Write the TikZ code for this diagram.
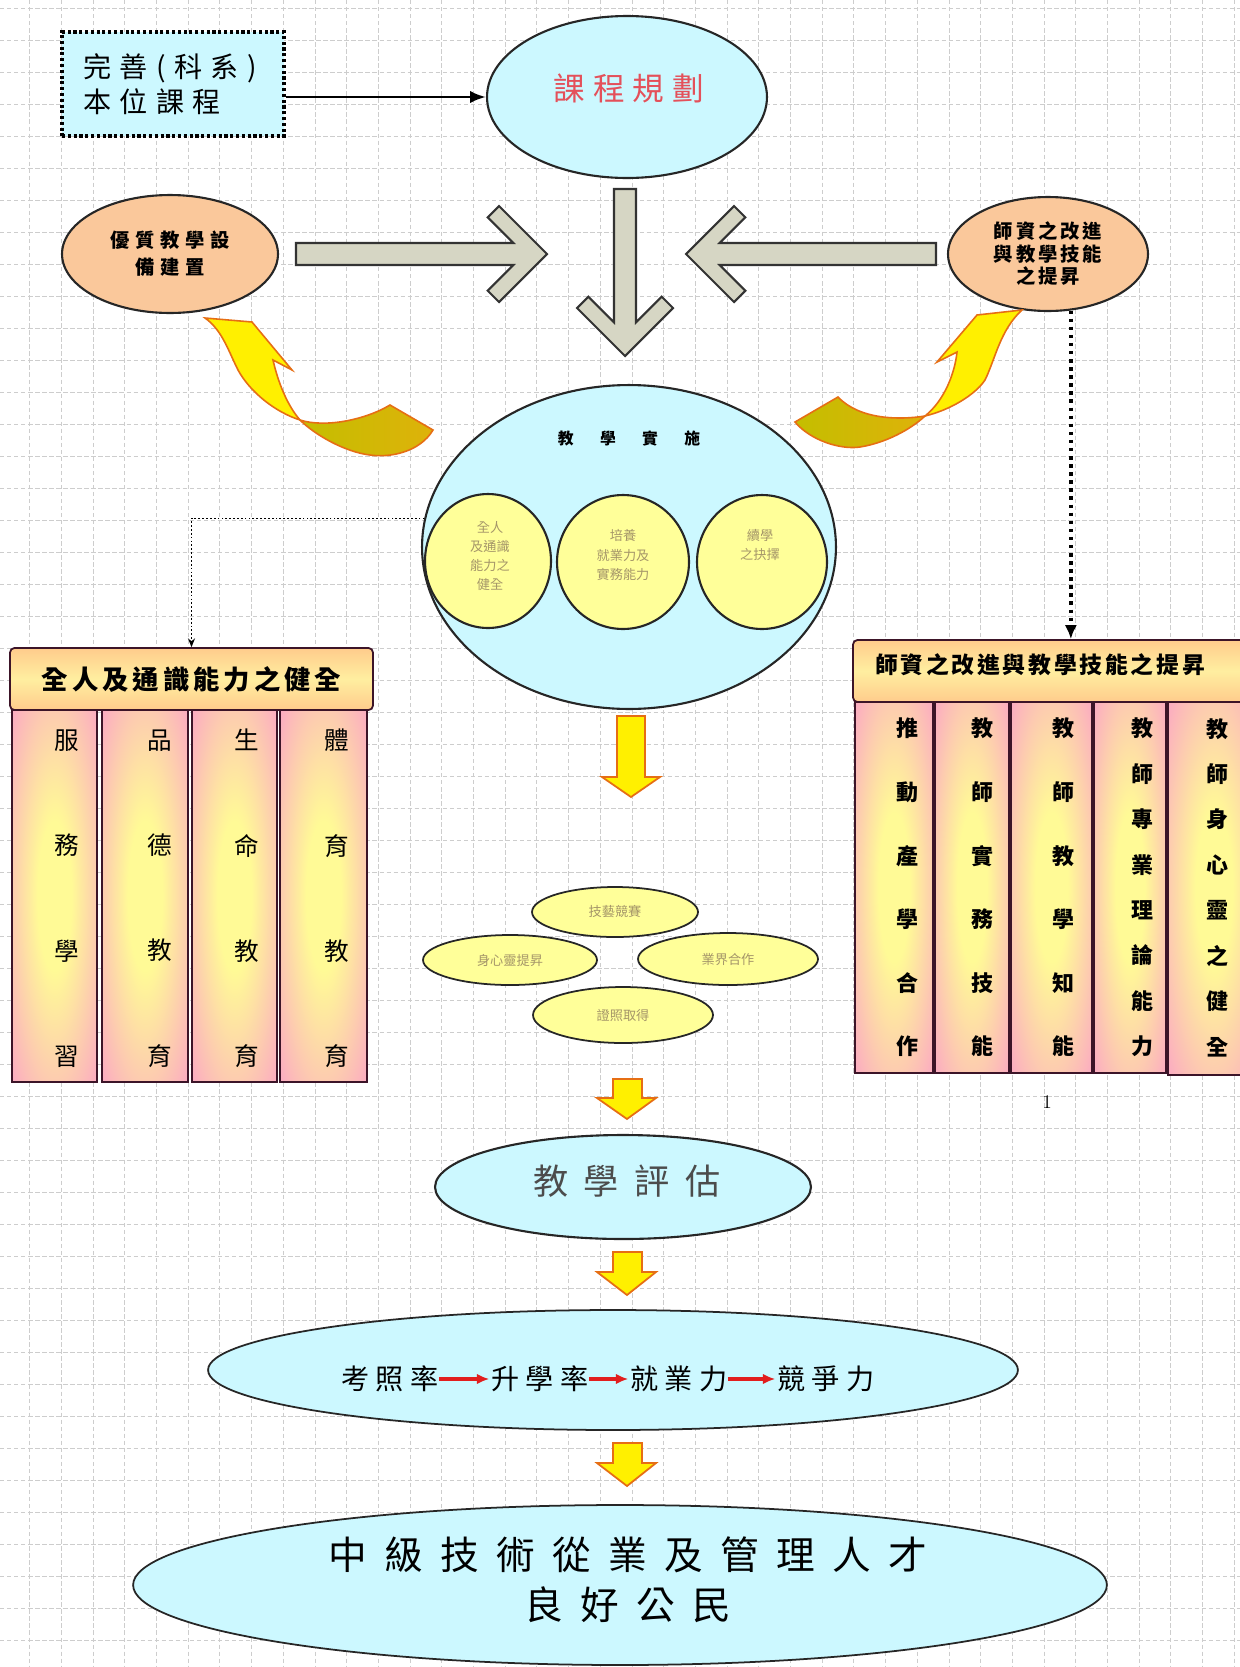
\documentclass[tikz,border=0pt]{standalone}
\usepackage{fontspec}
\newfontfamily\cjk{Noto Sans CJK TC}
\usetikzlibrary{shapes.geometric,arrows.meta}
\definecolor{gridc}{RGB}{205,205,205}
\definecolor{cyanf}{RGB}{204,248,255}
\definecolor{peach}{RGB}{250,200,155}
\definecolor{grayarrow}{RGB}{214,214,196}
\definecolor{lyel}{RGB}{255,255,153}
\definecolor{colyel}{RGB}{255,250,150}
\definecolor{colpink}{RGB}{250,150,205}
\definecolor{banpeach}{RGB}{255,204,140}
\definecolor{banlight}{RGB}{255,238,160}
\definecolor{arrowy}{RGB}{255,240,0}
\definecolor{arrowo}{RGB}{230,110,20}
\definecolor{olive1}{RGB}{196,190,0}
\definecolor{olive2}{RGB}{222,178,10}
\definecolor{planred}{RGB}{228,80,90}
\definecolor{fainttxt}{RGB}{165,150,105}
\definecolor{coledge}{RGB}{60,20,40}
\definecolor{redarr}{RGB}{225,30,30}
\pgfdeclareradialshading{colshade}{\pgfpoint{0bp}{0bp}}{color(0bp)=(colyel); color(10bp)=(colyel); color(42bp)=(colpink); color(50bp)=(colpink)}
\begin{document}
\begin{tikzpicture}[x=0.02cm,y=-0.02cm,
  gridline/.style={gridc, line width=0.4pt, dash pattern=on 2.5pt off 1.5pt},
  ell/.style={ellipse, draw=black!85, line width=1.2pt, inner sep=0pt},
  colbox/.style={rectangle, draw=coledge, line width=1.4pt, shade, shading=colshade, inner sep=0pt},
  banner/.style={rectangle, rounded corners=2.5pt, draw=coledge, line width=1pt, top color=banpeach, bottom color=banpeach, middle color=banlight, inner sep=0pt},
  coltext/.style={font=\cjk\fontsize{14}{60}\selectfont, align=center, inner sep=0pt},
  rcoltext/.style={font=\cjk\bfseries\fontsize{12.5}{36.2}\selectfont, align=center, inner sep=0pt},
  rcoltextb/.style={font=\cjk\bfseries\fontsize{12.5}{25.85}\selectfont, align=center, inner sep=0pt},
  blockarrow/.style={fill=arrowy, draw=arrowo, line width=1pt, line join=miter},
  grayblock/.style={fill=grayarrow, draw=black!80, line width=1.2pt, line join=miter},
  curveh/.style={fill=arrowy, draw=arrowo, line width=0.9pt},
  curvet/.style={left color=olive1, right color=olive2, draw=arrowo, line width=0.9pt},
  redarrow/.style={-{Latex[length=7pt,width=6pt]}, line width=2pt, redarr, shorten >=1pt},
  faint/.style={font=\cjk\fontsize{7.5}{11}\selectfont, text=fainttxt, align=center, inner sep=0pt},
  kpitext/.style={font=\cjk\addfontfeature{LetterSpace=23}\fontsize{16}{16}\selectfont, inner sep=0pt}
]
\useasboundingbox (0,0) rectangle (1240,1667);
\fill[white] (0,0) rectangle (1240,1667);
\clip (0,0) rectangle (1240,1667);
% grid
\foreach \i in {0,...,38} \draw[gridline] ({29.6+31.7*\i},0) -- ({29.6+31.7*\i},1667);
\foreach \j in {0,...,52} \draw[gridline] (0,{8+32*\j}) -- (1240,{8+32*\j});

% top box and plan ellipse
\node[rectangle, fill=cyanf, draw=black, line width=1.8pt, dash pattern=on 1.8pt off 1.5pt,
      minimum width=4.44cm, minimum height=2.08cm, text width=3.6cm, align=left, inner sep=0pt,
      font=\cjk\addfontfeature{LetterSpace=30}\fontsize{16}{19.8}\selectfont] (box) at (173,84) {完善(科系)\\本位課程};
\node[ell, fill=cyanf, minimum width=5.6cm, minimum height=3.24cm] (plan) at (627,97) {};
\node[font=\cjk\addfontfeature{LetterSpace=25}\fontsize{18}{18}\selectfont, text=planred, inner sep=0pt] (plantext) at (629,88) {課程規劃};
\draw[-{Latex[length=9pt,width=7pt]}, line width=1.6pt] (box.east |- plan.west) -- (plan.west);

% gray block arrows
\path[grayblock] (296,243) -- (513.4,243) -- (487.7,217.3) -- (499,206) -- (547,254) -- (499,302) -- (487.7,290.7) -- (513.4,265) -- (296,265) -- cycle;
\path[grayblock] (936,243) -- (719.6,243) -- (745.3,217.3) -- (734,206) -- (686,254) -- (734,302) -- (745.3,290.7) -- (719.6,265) -- (936,265) -- cycle;
\path[grayblock] (614,189) -- (614,322.4) -- (588.3,296.7) -- (577,308) -- (625,356) -- (673,308) -- (661.7,296.7) -- (636,322.4) -- (636,189) -- cycle;

% side ellipses
\node[ell, fill=peach, minimum width=4.32cm, minimum height=2.36cm, align=center,
      font=\cjk\bfseries\addfontfeature{LetterSpace=30}\fontsize{11}{15.3}\selectfont] (eq) at (170,254) {優質教學設\\備建置};
\node[ell, fill=peach, minimum width=4.0cm, minimum height=2.28cm, align=center,
      font=\cjk\bfseries\addfontfeature{LetterSpace=15}\fontsize{11}{12.8}\selectfont] (tq) at (1048,254) {師資之改進\\與教學技能\\之提昇};

% curved arrows
\path[curvet] (300,420) .. controls (325,428) and (365,420) .. (390,405) -- (433,430) .. controls (420,452) and (390,458) .. (370,455) .. controls (345,452) and (315,435) .. (300,420) -- cycle;
\path[curveh] (205,318) -- (252,322) -- (292,370) -- (273,360) .. controls (278,382) and (287,405) .. (300,420) .. controls (275,412) and (250,392) .. (238,370) .. controls (228,350) and (222,330) .. (205,318) -- cycle;
\path[curvet] (925,416) .. controls (900,420) and (860,420) .. (838,397) -- (795,422) .. controls (810,440) and (840,450) .. (860,447) .. controls (885,443) and (910,430) .. (925,416) -- cycle;
\path[curveh] (1022,310) -- (977,315) -- (937,362) -- (957,352) .. controls (955,372) and (945,400) .. (925,416) .. controls (950,410) and (975,395) .. (985,380) .. controls (995,360) and (1000,330) .. (1022,310) -- cycle;

% implementation circle
\node[ell, fill=cyanf, minimum width=8.28cm, minimum height=6.48cm] (impl) at (629,547) {};
\node[font=\cjk\bfseries\fontsize{9}{9}\selectfont, inner sep=0pt] (impltitle) at (629,438) {教\hspace{15pt}學\hspace{15pt}實\hspace{15pt}施};
\node[ell, fill=lyel, minimum width=2.52cm, minimum height=2.68cm] (c1) at (488,561) {};
\node[ell, fill=lyel, minimum width=2.64cm, minimum height=2.68cm] (c2) at (623,562) {};
\node[ell, fill=lyel, minimum width=2.6cm, minimum height=2.68cm] (c3) at (762,562) {};
\node[faint] (c1t) at (490,556) {全人\\及通識\\能力之\\健全};
\node[faint] (c2t) at (623,555) {培養\\就業力及\\實務能力};
\node[faint] (c3t) at (760,545) {續學\\之抉擇};

% left banner and columns
\node[banner, minimum width=7.26cm, minimum height=1.24cm,
      font=\cjk\bfseries\addfontfeature{LetterSpace=15}\fontsize{15}{15}\selectfont] (lbanner) at (191.5,679) {全人及通識能力之健全};
\node[colbox, minimum width=1.7cm, minimum height=7.44cm] (L1) at (54.5,896) {};
\node[colbox, minimum width=1.72cm, minimum height=7.44cm] (L2) at (145,896) {};
\node[colbox, minimum width=1.7cm, minimum height=7.44cm] (L3) at (234.5,896) {};
\node[colbox, minimum width=1.74cm, minimum height=7.44cm] (L4) at (323.5,896) {};
\node[coltext] (L1t) at (67,898.5) {服\\務\\學\\習};
\node[coltext] (L2t) at (160,898.5) {品\\德\\教\\育};
\node[coltext] (L3t) at (247,898.5) {生\\命\\教\\育};
\node[coltext] (L4t) at (337,898.5) {體\\育\\教\\育};

% right banner and columns
\node[banner, minimum width=8.14cm, minimum height=1.24cm] (rbanner) at (1056.5,671) {};
\node[font=\cjk\bfseries\addfontfeature{LetterSpace=12}\fontsize{13}{13}\selectfont, inner sep=0pt] (rbt) at (1040,665) {師資之改進與教學技能之提昇};
\node[colbox, minimum width=1.56cm, minimum height=7.42cm] (R1) at (894,887.5) {};
\node[colbox, minimum width=1.48cm, minimum height=7.42cm] (R2) at (972,887.5) {};
\node[colbox, minimum width=1.62cm, minimum height=7.42cm] (R3) at (1051.5,887.5) {};
\node[colbox, minimum width=1.44cm, minimum height=7.42cm] (R4) at (1130,887.5) {};
\node[colbox, minimum width=1.84cm, minimum height=7.46cm] (R5) at (1214,888.5) {};
\node[rcoltext] (R1t) at (907,887.5) {推\\動\\產\\學\\合\\作};
\node[rcoltext] (R2t) at (982,887.5) {教\\師\\實\\務\\技\\能};
\node[rcoltext] (R3t) at (1063,887.5) {教\\師\\教\\學\\知\\能};
\node[rcoltextb] (R4t) at (1142,887.5) {教\\師\\專\\業\\理\\論\\能\\力};
\node[rcoltextb] (R5t) at (1217,887.5) {教\\師\\身\\心\\靈\\之\\健\\全};

% dotted connectors
\draw[line width=0.8pt, dash pattern=on 1pt off 1.2pt, -{Stealth[length=5pt,width=4pt]}] (impl.172) -| (lbanner.north);
\draw[line width=2pt, dash pattern=on 2pt off 2.6pt, -{Latex[length=8pt,width=7pt]}] (tq.292) -- (tq.292 |- rbanner.north);

% yellow arrow below circle
\path[blockarrow] (617,716) -- (645,716) -- (645,777) -- (660,777) -- (631,797) -- (602,777) -- (617,777) -- cycle;

% small ellipses
\node[ell, line width=1pt, fill=lyel, minimum width=3.32cm, minimum height=1.0cm, font=\cjk\fontsize{7.5}{7.5}\selectfont, text=fainttxt] (e1) at (615,912) {技藝競賽};
\node[ell, line width=1pt, fill=lyel, minimum width=3.48cm, minimum height=1.0cm, font=\cjk\fontsize{7.5}{7.5}\selectfont, text=fainttxt] (e2) at (510,960) {身心靈提昇};
\node[ell, line width=1pt, fill=lyel, minimum width=3.6cm, minimum height=1.04cm, font=\cjk\fontsize{7.5}{7.5}\selectfont, text=fainttxt] (e3) at (728,959) {業界合作};
\node[ell, line width=1pt, fill=lyel, minimum width=3.6cm, minimum height=1.12cm, font=\cjk\fontsize{7.5}{7.5}\selectfont, text=fainttxt] (e4) at (623,1015) {證照取得};

\node[inner sep=0pt, font=\fontsize{11}{11}\selectfont] (pg) at (1047,1102) {1};

% arrow to eval
\path[blockarrow] (613,1079) -- (642,1079) -- (642,1098) -- (656,1098) -- (627,1119) -- (597,1098) -- (613,1098) -- cycle;
\node[ell, fill=cyanf, minimum width=7.52cm, minimum height=2.08cm] (eval) at (623,1187) {};
\node[font=\cjk\addfontfeature{LetterSpace=45}\fontsize{20}{20}\selectfont, text=black!70, inner sep=0pt] (evaltext) at (627,1181) {教學評估};

% arrow to kpi
\path[blockarrow] (613,1252) -- (642,1252) -- (642,1272) -- (656,1272) -- (627,1295) -- (597,1272) -- (613,1272) -- cycle;
\node[ell, line width=1pt, fill=cyanf, minimum width=16.2cm, minimum height=2.4cm] (kpi) at (613,1370) {};
\node[kpitext] (k1) at (390,1379) {考照率};
\node[kpitext] (k2) at (540,1379) {升學率};
\node[kpitext] (k3) at (679,1379) {就業力};
\node[kpitext] (k4) at (826,1379) {競爭力};
\draw[redarrow] (k1.east) -- (k2.west);
\draw[redarrow] (k2.east) -- (k3.west);
\draw[redarrow] (k3.east) -- (k4.west);

% arrow to goal
\path[blockarrow] (613,1443) -- (642,1443) -- (642,1463) -- (656,1463) -- (627,1486) -- (597,1463) -- (613,1463) -- cycle;
\node[ell, line width=1pt, fill=cyanf, minimum width=19.48cm, minimum height=3.2cm] (goal) at (620,1585) {};
\node[align=center, inner sep=0pt, font=\cjk\addfontfeature{LetterSpace=45}\fontsize{22}{28.3}\selectfont] (goaltext) at (628,1580) {中級技術從業及管理人才\\良好公民};
\end{tikzpicture}
\end{document}
